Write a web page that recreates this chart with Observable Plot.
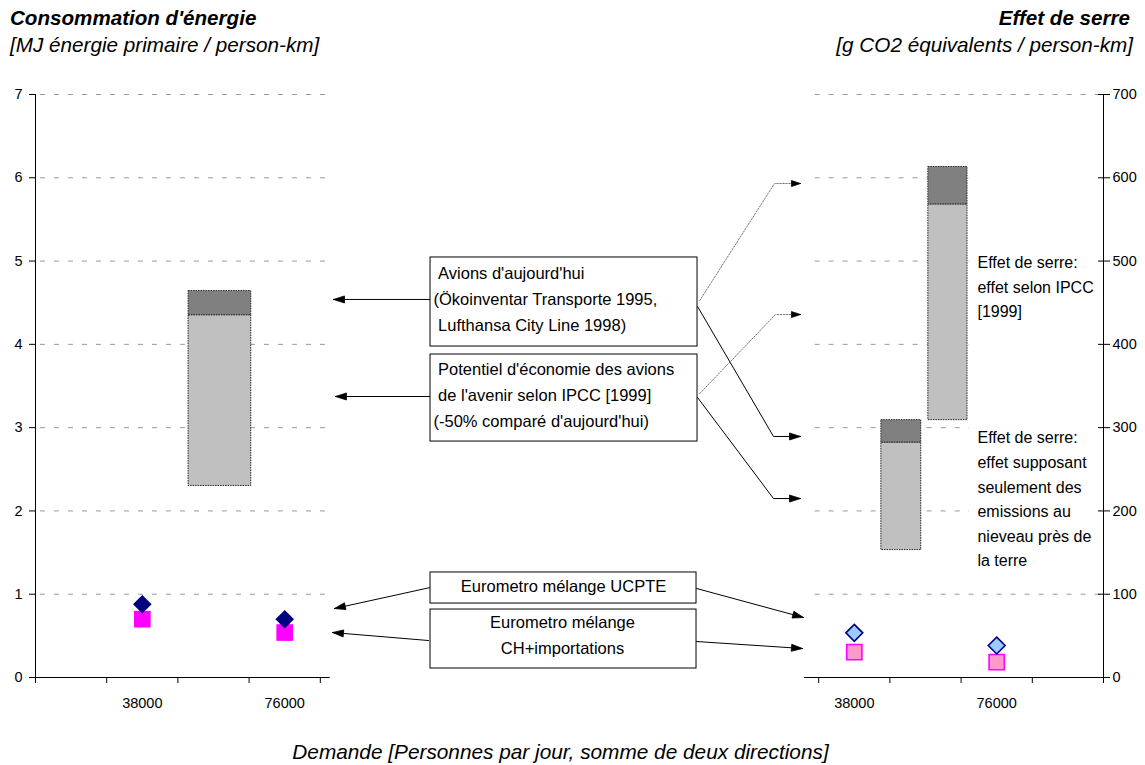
<!DOCTYPE html>
<html><head><meta charset="utf-8">
<script src="https://cdn.jsdelivr.net/npm/d3@7"></script>
<script src="https://cdn.jsdelivr.net/npm/@observablehq/plot@0.6"></script>
<style>
body{margin:0;background:#fff;font-family:"Liberation Sans",Arial,sans-serif;}
#wrap{position:relative;width:1145px;height:765px;overflow:hidden;}
.t{position:absolute;white-space:nowrap;color:#000;font-family:"Liberation Sans",Arial,sans-serif;line-height:23px;}
</style></head><body>
<div id="wrap">
  <div class="t" style="left:10px;top:6px;font-size:20.6px;font-style:italic;font-weight:bold;">Consommation d'énergie</div>
  <div class="t" style="left:10px;top:33px;font-size:20.7px;font-style:italic;">[MJ énergie primaire / person-km]</div>
  <div class="t" style="right:15px;top:6px;font-size:20.6px;font-style:italic;font-weight:bold;">Effet de serre</div>
  <div class="t" style="right:12px;top:33px;font-size:20.7px;font-style:italic;">[g CO2 équivalents / person-km]</div>
  <div id="chart" style="position:absolute;left:0;top:70px;"></div>
  <div class="t" style="left:0;width:1121px;text-align:center;top:740px;font-size:20.8px;font-style:italic;">Demande [Personnes par jour, somme de deux directions]</div>
</div>
<script>
// ---------- data ----------
const demand = ["38000", "76000"];
const energyUCPTE = [0.88, 0.70];     // MJ / pkm, Eurometro mélange UCPTE
const energyCH = [0.70, 0.54];        // MJ / pkm, Eurometro mélange CH+importations
const ghgUCPTE = [53.6, 38.4];        // g CO2-eq / pkm
const ghgCH = [30.4, 18.4];           // g CO2-eq / pkm
const barNames = ["Énergie avions", "Effet de serre (sol)", "Effet de serre (IPCC)"];
const barLow = [2.30, 153, 309];      // avenir (-50%)
const barMid = [4.35, 282, 568];
const barTop = [4.64, 309, 613];      // avions d'aujourd'hui
const yTicks = [0, 1, 2, 3, 4, 5, 6, 7];

// ---------- layout ----------
const W = 1145, H = 655, mL = 35, mR = 42, mT = 24, mB = 48;
const kx = (W - mL - mR) / 15;   // px per x unit
const ky = (H - mT - mB) / 7;    // px per y unit
const leftSlot = i => 1.5 + 2 * i;
const rightSlot = i => 11.5 + 2 * i;
const barSlots = [[2.15, 3.03], [11.88, 12.44], [12.54, 13.09]];
const barScale = [1, 0.01, 0.01];

const segs = [];
barNames.forEach((n, i) => {
  segs.push({name: n, part: "avenir", x1: barSlots[i][0], x2: barSlots[i][1], y1: barLow[i] * barScale[i], y2: barMid[i] * barScale[i]});
  segs.push({name: n, part: "aujourd'hui", x1: barSlots[i][0], x2: barSlots[i][1], y1: barMid[i] * barScale[i], y2: barTop[i] * barScale[i]});
});

const leftPts = demand.map((d, i) => ({d, x: leftSlot(i), a: energyUCPTE[i], b: energyCH[i]}));
const rightPts = demand.map((d, i) => ({d, x: rightSlot(i), a: ghgUCPTE[i] / 100, b: ghgCH[i] / 100}));

// ---------- annotations (data units) ----------
const boxes = [
  {x1: 5.548, x2: 9.298, y1: 3.974, y2: 5.043},
  {x1: 5.548, x2: 9.298, y1: 2.833, y2: 3.878},
  {x1: 5.548, x2: 9.284, y1: 0.888, y2: 1.261},
  {x1: 5.548, x2: 9.284, y1: 0.108, y2: 0.816}
];
const boxTextsLeft = [
  {x: 5.59, y: 4.539, text: "\u00a0Avions d'aujourd'hui\n(Ökoinventar Transporte 1995,\n\u00a0Lufthansa City Line 1998)"},
  {x: 5.59, y: 3.386, text: "\u00a0Potentiel d'économie des avions\n\u00a0de l'avenir selon IPCC [1999]\n(-50% comparé d'aujourd'hui)"}
];
const boxTextsCenter = [
  {x: 7.416, y: 1.081, text: "Eurometro mélange UCPTE"},
  {x: 7.402, y: 0.492, text: "Eurometro mélange\nCH+importations"}
];
const sideTexts = [
  {x: 13.23, y: 4.671, text: "Effet de serre:\neffet selon IPCC\n[1999]"},
  {x: 13.23, y: 2.125, text: "Effet de serre:\neffet supposant\nseulement des\nemissions au\nnieveau près de\nla terre"}
];
const arrows = [
  {id: "a1", dash: false, pts: [[5.548, 4.539], [4.185, 4.539]]},
  {id: "a2", dash: false, pts: [[5.548, 3.374], [4.213, 3.374]]},
  {id: "a3", dash: true,  pts: [[9.33, 4.527], [10.379, 5.931], [10.744, 5.931]]},
  {id: "a4", dash: false, pts: [[9.298, 4.455], [10.365, 2.894], [10.744, 2.894]]},
  {id: "a5", dash: true,  pts: [[9.33, 3.410], [10.393, 4.358], [10.744, 4.358]]},
  {id: "a6", dash: false, pts: [[9.298, 3.362], [10.365, 2.149], [10.744, 2.149]]},
  {id: "a7", dash: false, pts: [[5.548, 1.081], [4.199, 0.828]]},
  {id: "a8", dash: false, pts: [[5.520, 0.444], [4.171, 0.540]]},
  {id: "a9", dash: false, pts: [[9.284, 1.069], [10.787, 0.720]]},
  {id: "a10", dash: false, pts: [[9.284, 0.432], [10.772, 0.348]]}
];
const lineRows = arrows.flatMap(a => a.pts.map(([x, y]) => ({id: a.id, dash: a.dash, x, y})));
const triRows = arrows.flatMap(a => {
  const n = a.pts.length;
  const [x1, y1] = a.pts[n - 2], [x2, y2] = a.pts[n - 1];
  const dxp = (x2 - x1) * kx, dyp = -(y2 - y1) * ky;
  const len = Math.hypot(dxp, dyp), ux = dxp / len, uy = dyp / len;
  const L = a.dash ? 9 : 11, Wd = a.dash ? 6 : 7;
  const bx = -L * ux, by = -L * uy;
  const c1 = [bx - uy * Wd / 2, by + ux * Wd / 2], c2 = [bx + uy * Wd / 2, by - ux * Wd / 2];
  return [[0, 0], c1, c2, [0, 0]].map(([px, py]) => ({id: a.id, x: x2 + px / kx, y: y2 - py / ky}));
});

const grid = yTicks.filter(d => d > 0);
const chart = Plot.plot({
  width: W, height: H, marginLeft: mL, marginRight: mR, marginTop: mT, marginBottom: mB,
  x: {domain: [0, 15], axis: null},
  y: {domain: [0, 7]},
  style: {fontFamily: "Liberation Sans, Arial, sans-serif", fontSize: "14px", background: "white", overflow: "visible", color: "black"},
  marks: [
    // gridlines
    Plot.ruleY(grid, {x1: 0.07, x2: 4.14, stroke: "#9a9a9a", strokeDasharray: "5,9"}),
    Plot.ruleY(grid, {x1: 10.95, x2: 14.95, stroke: "#9a9a9a", strokeDasharray: "5,9"}),
    // white text area on right panel
    Plot.rect([{x1: 13.118, x2: 14.944, y1: 1.165, y2: 6.148}], {x1: "x1", x2: "x2", y1: "y1", y2: "y2", fill: "white"}),
    // bars
    Plot.rect(segs, {x1: "x1", x2: "x2", y1: "y1", y2: "y2",
      fill: d => d.part === "avenir" ? "#c0c0c0" : "#808080",
      stroke: "#222", strokeWidth: 1, strokeDasharray: "1.5,1"}),
    // axes lines
    Plot.ruleX([0], {y1: 0, y2: 7, stroke: "black"}),
    Plot.ruleX([15], {y1: -6 / ky, y2: 7, stroke: "black"}),
    Plot.ruleY([0], {x1: 0, x2: 4.14, stroke: "black"}),
    Plot.ruleY([0], {x1: 10.8, x2: 15, stroke: "black"}),
    Plot.ruleX([0, 1, 2, 3, 4, 11, 12, 13, 14, 15], {y1: 0, y2: -6 / ky, stroke: "black"}),
    Plot.ruleY(yTicks, {x1: 15 - 5 / kx, x2: 15, stroke: "black"}),
    Plot.axisY({anchor: "left", ticks: yTicks, tickSize: 6, tickPadding: 7, label: null, fontSize: 14.5, tickFormat: d => String(d)}),
    Plot.axisY({anchor: "right", ticks: yTicks, tickSize: 6, tickPadding: 3, label: null, fontSize: 14.5, tickFormat: d => String(Math.round(d * 100))}),
    // x tick labels
    Plot.text(leftPts, {x: "x", y: 0, dy: 26, text: "d", fontSize: 14.5}),
    Plot.text(rightPts, {x: "x", y: 0, dy: 26, text: "d", fontSize: 14.5}),
    // points
    Plot.dot(leftPts, {x: "x", y: "b", symbol: "square", r: 9.4, fill: "#ff00ff"}),
    Plot.dot(leftPts, {x: "x", y: "a", symbol: "diamond2", r: 8.4, fill: "#000080"}),
    Plot.dot(rightPts, {x: "x", y: "b", symbol: "square", r: 8.6, fill: "#ff99cc", stroke: "#ff00ff", strokeWidth: 1.6}),
    Plot.dot(rightPts, {x: "x", y: "a", symbol: "diamond2", r: 7.6, fill: "#99ccff", stroke: "#000080", strokeWidth: 1.6}),
    // annotation arrows
    Plot.line(lineRows.filter(d => !d.dash), {x: "x", y: "y", z: "id", stroke: "black", strokeWidth: 1, curve: "linear"}),
    Plot.line(lineRows.filter(d => d.dash), {x: "x", y: "y", z: "id", stroke: "#777", strokeWidth: 1, strokeDasharray: "1.5,1.5", curve: "linear"}),
    Plot.line(triRows, {x: "x", y: "y", z: "id", fill: "black", stroke: "black", strokeWidth: 0.8, curve: "linear"}),
    // annotation boxes
    Plot.rect(boxes, {x1: "x1", x2: "x2", y1: "y1", y2: "y2", fill: "white", stroke: "black", strokeWidth: 1}),
    Plot.text(boxTextsLeft, {x: "x", y: "y", dy: -2.5, text: "text", textAnchor: "start", lineAnchor: "middle", fontSize: 16.5, lineHeight: 26 / 16.5, fill: "black"}),
    Plot.text(boxTextsCenter, {x: "x", y: "y", dy: -3.5, text: "text", textAnchor: "middle", lineAnchor: "middle", fontSize: 16.5, lineHeight: 26 / 16.5, fill: "black"}),
    Plot.text(sideTexts, {x: "x", y: "y", dy: -3.5, text: "text", textAnchor: "start", lineAnchor: "middle", fontSize: 16, lineHeight: 24.6 / 16, fill: "black"})
  ]
});
document.getElementById("chart").appendChild(chart);
</script>
</body></html>
